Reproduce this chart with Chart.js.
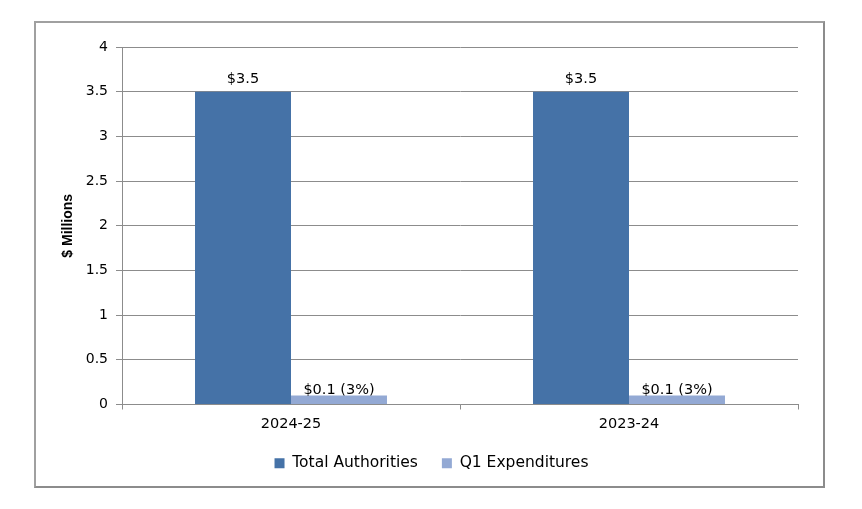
<!DOCTYPE html>
<html>
  <head>
    <title>Total Authorities vs Q1 Expenditures</title>
    <style>
      body {
        margin: 0;
        background: #ffffff;
      }
      .frame {
        position: absolute;
        left: 34px;
        top: 21px;
        width: 787px;
        height: 463px;
        border: 2px solid #8c8c8c;
        border-top-color: #a0a0a0;
        border-left-color: #a0a0a0;
      }
      .chart-container {
        position: absolute;
        left: 0;
        top: 0;
        width: 862px;
        height: 509px;
      }
    </style>
  </head>
  <body>
    <div class="frame"></div>
    <div class="chart-container">
      <canvas id="authChart"></canvas>
    </div>

    <script src="https://cdn.jsdelivr.net/npm/chart.js"></script>
    <script>
      // Datos de la gráfica
      var years = ["2024-25", "2023-24"];
      var totalAuthorities = [3.5, 3.5];
      var q1Expenditures = [0.1, 0.1];
      var seriesNames = ["Total Authorities", "Q1 Expenditures"];
      var yTicks = ["0", "0.5", "1", "1.5", "2", "2.5", "3", "3.5", "4"];

      var textFont = "'DejaVu Sans', Verdana, sans-serif";

      // Etiquetas encima de las barras
      var barLabels = {
        id: "barLabels",
        afterDatasetsDraw: function (chart) {
          var ctx = chart.ctx;
          ctx.save();
          ctx.font = "14.5px " + textFont;
          ctx.fillStyle = "#000000";
          ctx.textAlign = "center";
          ctx.textBaseline = "alphabetic";
          chart.data.datasets.forEach(function (ds, di) {
            chart.getDatasetMeta(di).data.forEach(function (bar, i) {
              var v = ds.data[i];
              var txt = "$" + v.toFixed(1);
              var gap = 9;
              if (di === 1) {
                var pct = Math.round((v / totalAuthorities[i]) * 100);
                txt += " (" + pct + "%)";
                gap = 2;
              }
              ctx.fillText(txt, bar.x, bar.y - gap);
            });
          });
          ctx.restore();
        },
      };

      // Centra la leyenda sobre el marco
      var legendShift = {
        id: "legendShift",
        afterLayout: function (chart) {
          if (chart.legend) {
            chart.legend.left += 15;
            chart.legend.right += 15;
          }
        },
      };

      new Chart(document.getElementById("authChart"), {
        type: "bar",
        data: {
          labels: years,
          datasets: [
            {
              label: seriesNames[0],
              data: totalAuthorities,
              backgroundColor: "#4572a7",
            },
            {
              label: seriesNames[1],
              data: q1Expenditures,
              backgroundColor: "#93a9d4",
            },
          ],
        },
        options: {
          responsive: true,
          maintainAspectRatio: false,
          animation: false,
          layout: {
            padding: { left: 35, right: 64, top: 47, bottom: 28 },
          },
          datasets: {
            bar: {
              categoryPercentage: 0.568,
              barPercentage: 1.0,
            },
          },
          plugins: {
            tooltip: { enabled: false },
            legend: {
              position: "bottom",
              labels: {
                boxWidth: 10,
                boxHeight: 10,
                padding: 24,
                color: "#000000",
                font: { family: textFont, size: 15.5 },
              },
            },
          },
          scales: {
            x: {
              grid: {
                offset: true,
                drawOnChartArea: false,
                drawTicks: true,
                tickLength: 5,
                color: "#8c8c8c",
              },
              border: { color: "#8c8c8c", width: 1 },
              ticks: {
                color: "#000000",
                padding: 6,
                font: { family: textFont, size: 14.5 },
              },
              afterFit: function (scale) {
                scale.height = 27;
              },
            },
            y: {
              min: 0,
              max: 4,
              grid: {
                color: "#8c8c8c",
                tickLength: 6,
              },
              border: { color: "#8c8c8c", width: 1 },
              ticks: {
                stepSize: 0.5,
                color: "#000000",
                padding: 8,
                font: { family: textFont, size: 14 },
                callback: function (value, index) {
                  return yTicks[index];
                },
              },
              title: {
                display: true,
                text: "$ Millions",
                color: "#000000",
                padding: { top: 25, bottom: 0 },
                font: {
                  family: "'Liberation Sans Narrow', 'Liberation Sans', sans-serif",
                  size: 14,
                  weight: "bold",
                },
              },
              afterFit: function (scale) {
                scale.width = 87;
              },
            },
          },
        },
        plugins: [barLabels, legendShift],
      });
    </script>
  </body>
</html>
